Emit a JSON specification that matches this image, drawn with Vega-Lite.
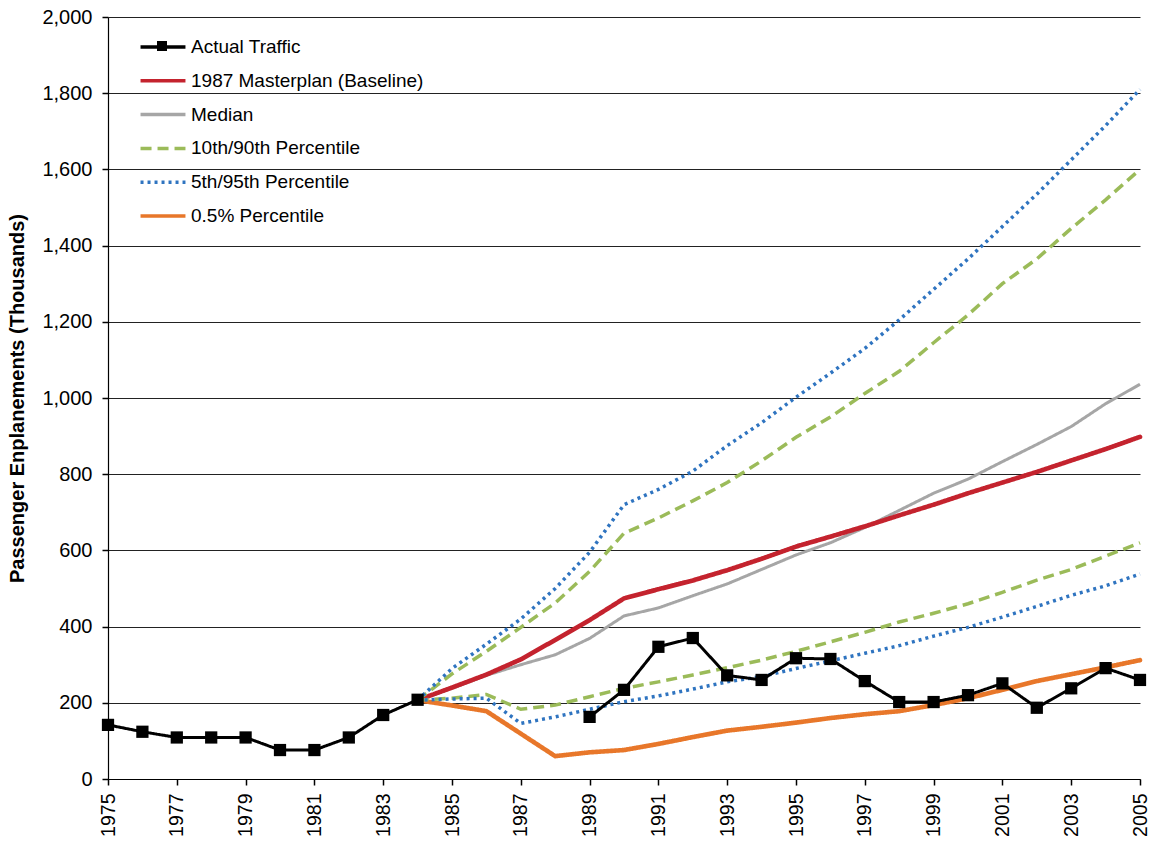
{
  "$schema": "https://vega.github.io/schema/vega-lite/v6.json",
  "width": 1032,
  "height": 762,
  "autosize": {"type": "none"},
  "padding": {"left": 108, "top": 17, "right": 11, "bottom": 63},
  "background": "white",
  "config": {
    "font": "Liberation Sans",
    "view": {"stroke": null},
    "axis": {"labelFont": "Liberation Sans", "titleFont": "Liberation Sans", "labelColor": "black", "titleColor": "black"}
  },
  "data": {
    "values": [
      {"year": 1975, "series": "Actual Traffic", "part": "pre", "value": 142},
      {"year": 1976, "series": "Actual Traffic", "part": "pre", "value": 124},
      {"year": 1977, "series": "Actual Traffic", "part": "pre", "value": 109},
      {"year": 1978, "series": "Actual Traffic", "part": "pre", "value": 109},
      {"year": 1979, "series": "Actual Traffic", "part": "pre", "value": 109},
      {"year": 1980, "series": "Actual Traffic", "part": "pre", "value": 76},
      {"year": 1981, "series": "Actual Traffic", "part": "pre", "value": 76},
      {"year": 1982, "series": "Actual Traffic", "part": "pre", "value": 109},
      {"year": 1983, "series": "Actual Traffic", "part": "pre", "value": 168},
      {"year": 1984, "series": "Actual Traffic", "part": "pre", "value": 208},
      {"year": 1989, "series": "Actual Traffic", "part": "post", "value": 163},
      {"year": 1990, "series": "Actual Traffic", "part": "post", "value": 234},
      {"year": 1991, "series": "Actual Traffic", "part": "post", "value": 347},
      {"year": 1992, "series": "Actual Traffic", "part": "post", "value": 370},
      {"year": 1993, "series": "Actual Traffic", "part": "post", "value": 272},
      {"year": 1994, "series": "Actual Traffic", "part": "post", "value": 260},
      {"year": 1995, "series": "Actual Traffic", "part": "post", "value": 317},
      {"year": 1996, "series": "Actual Traffic", "part": "post", "value": 315},
      {"year": 1997, "series": "Actual Traffic", "part": "post", "value": 257},
      {"year": 1998, "series": "Actual Traffic", "part": "post", "value": 202},
      {"year": 1999, "series": "Actual Traffic", "part": "post", "value": 202},
      {"year": 2000, "series": "Actual Traffic", "part": "post", "value": 220},
      {"year": 2001, "series": "Actual Traffic", "part": "post", "value": 251},
      {"year": 2002, "series": "Actual Traffic", "part": "post", "value": 187},
      {"year": 2003, "series": "Actual Traffic", "part": "post", "value": 238},
      {"year": 2004, "series": "Actual Traffic", "part": "post", "value": 291},
      {"year": 2005, "series": "Actual Traffic", "part": "post", "value": 260},

      {"year": 1984, "series": "1987 Masterplan (Baseline)", "part": "main", "value": 207},
      {"year": 1985, "series": "1987 Masterplan (Baseline)", "part": "main", "value": 240},
      {"year": 1986, "series": "1987 Masterplan (Baseline)", "part": "main", "value": 274},
      {"year": 1987, "series": "1987 Masterplan (Baseline)", "part": "main", "value": 314},
      {"year": 1988, "series": "1987 Masterplan (Baseline)", "part": "main", "value": 365},
      {"year": 1989, "series": "1987 Masterplan (Baseline)", "part": "main", "value": 417},
      {"year": 1990, "series": "1987 Masterplan (Baseline)", "part": "main", "value": 474},
      {"year": 1991, "series": "1987 Masterplan (Baseline)", "part": "main", "value": 498},
      {"year": 1992, "series": "1987 Masterplan (Baseline)", "part": "main", "value": 521},
      {"year": 1993, "series": "1987 Masterplan (Baseline)", "part": "main", "value": 548},
      {"year": 1994, "series": "1987 Masterplan (Baseline)", "part": "main", "value": 578},
      {"year": 1995, "series": "1987 Masterplan (Baseline)", "part": "main", "value": 610},
      {"year": 1996, "series": "1987 Masterplan (Baseline)", "part": "main", "value": 636},
      {"year": 1997, "series": "1987 Masterplan (Baseline)", "part": "main", "value": 663},
      {"year": 1998, "series": "1987 Masterplan (Baseline)", "part": "main", "value": 692},
      {"year": 1999, "series": "1987 Masterplan (Baseline)", "part": "main", "value": 720},
      {"year": 2000, "series": "1987 Masterplan (Baseline)", "part": "main", "value": 750},
      {"year": 2001, "series": "1987 Masterplan (Baseline)", "part": "main", "value": 778},
      {"year": 2002, "series": "1987 Masterplan (Baseline)", "part": "main", "value": 806},
      {"year": 2003, "series": "1987 Masterplan (Baseline)", "part": "main", "value": 836},
      {"year": 2004, "series": "1987 Masterplan (Baseline)", "part": "main", "value": 866},
      {"year": 2005, "series": "1987 Masterplan (Baseline)", "part": "main", "value": 898},

      {"year": 1984, "series": "Median", "part": "main", "value": 207},
      {"year": 1985, "series": "Median", "part": "main", "value": 238},
      {"year": 1986, "series": "Median", "part": "main", "value": 272},
      {"year": 1987, "series": "Median", "part": "main", "value": 300},
      {"year": 1988, "series": "Median", "part": "main", "value": 326},
      {"year": 1989, "series": "Median", "part": "main", "value": 369},
      {"year": 1990, "series": "Median", "part": "main", "value": 428},
      {"year": 1991, "series": "Median", "part": "main", "value": 449},
      {"year": 1992, "series": "Median", "part": "main", "value": 481},
      {"year": 1993, "series": "Median", "part": "main", "value": 512},
      {"year": 1994, "series": "Median", "part": "main", "value": 550},
      {"year": 1995, "series": "Median", "part": "main", "value": 588},
      {"year": 1996, "series": "Median", "part": "main", "value": 620},
      {"year": 1997, "series": "Median", "part": "main", "value": 660},
      {"year": 1998, "series": "Median", "part": "main", "value": 705},
      {"year": 1999, "series": "Median", "part": "main", "value": 750},
      {"year": 2000, "series": "Median", "part": "main", "value": 787},
      {"year": 2001, "series": "Median", "part": "main", "value": 833},
      {"year": 2002, "series": "Median", "part": "main", "value": 878},
      {"year": 2003, "series": "Median", "part": "main", "value": 925},
      {"year": 2004, "series": "Median", "part": "main", "value": 985},
      {"year": 2005, "series": "Median", "part": "main", "value": 1036},

      {"year": 1984, "series": "10th/90th Percentile", "part": "upper", "value": 207},
      {"year": 1985, "series": "10th/90th Percentile", "part": "upper", "value": 276},
      {"year": 1986, "series": "10th/90th Percentile", "part": "upper", "value": 335},
      {"year": 1987, "series": "10th/90th Percentile", "part": "upper", "value": 398},
      {"year": 1988, "series": "10th/90th Percentile", "part": "upper", "value": 462},
      {"year": 1989, "series": "10th/90th Percentile", "part": "upper", "value": 545},
      {"year": 1990, "series": "10th/90th Percentile", "part": "upper", "value": 645},
      {"year": 1991, "series": "10th/90th Percentile", "part": "upper", "value": 685},
      {"year": 1992, "series": "10th/90th Percentile", "part": "upper", "value": 730},
      {"year": 1993, "series": "10th/90th Percentile", "part": "upper", "value": 778},
      {"year": 1994, "series": "10th/90th Percentile", "part": "upper", "value": 835},
      {"year": 1995, "series": "10th/90th Percentile", "part": "upper", "value": 897},
      {"year": 1996, "series": "10th/90th Percentile", "part": "upper", "value": 950},
      {"year": 1997, "series": "10th/90th Percentile", "part": "upper", "value": 1012},
      {"year": 1998, "series": "10th/90th Percentile", "part": "upper", "value": 1070},
      {"year": 1999, "series": "10th/90th Percentile", "part": "upper", "value": 1145},
      {"year": 2000, "series": "10th/90th Percentile", "part": "upper", "value": 1218},
      {"year": 2001, "series": "10th/90th Percentile", "part": "upper", "value": 1300},
      {"year": 2002, "series": "10th/90th Percentile", "part": "upper", "value": 1365},
      {"year": 2003, "series": "10th/90th Percentile", "part": "upper", "value": 1445},
      {"year": 2004, "series": "10th/90th Percentile", "part": "upper", "value": 1520},
      {"year": 2005, "series": "10th/90th Percentile", "part": "upper", "value": 1600},

      {"year": 1984, "series": "10th/90th Percentile", "part": "lower", "value": 207},
      {"year": 1985, "series": "10th/90th Percentile", "part": "lower", "value": 212},
      {"year": 1986, "series": "10th/90th Percentile", "part": "lower", "value": 222},
      {"year": 1987, "series": "10th/90th Percentile", "part": "lower", "value": 183},
      {"year": 1988, "series": "10th/90th Percentile", "part": "lower", "value": 194},
      {"year": 1989, "series": "10th/90th Percentile", "part": "lower", "value": 216},
      {"year": 1990, "series": "10th/90th Percentile", "part": "lower", "value": 238},
      {"year": 1991, "series": "10th/90th Percentile", "part": "lower", "value": 255},
      {"year": 1992, "series": "10th/90th Percentile", "part": "lower", "value": 273},
      {"year": 1993, "series": "10th/90th Percentile", "part": "lower", "value": 292},
      {"year": 1994, "series": "10th/90th Percentile", "part": "lower", "value": 312},
      {"year": 1995, "series": "10th/90th Percentile", "part": "lower", "value": 335},
      {"year": 1996, "series": "10th/90th Percentile", "part": "lower", "value": 360},
      {"year": 1997, "series": "10th/90th Percentile", "part": "lower", "value": 385},
      {"year": 1998, "series": "10th/90th Percentile", "part": "lower", "value": 412},
      {"year": 1999, "series": "10th/90th Percentile", "part": "lower", "value": 435},
      {"year": 2000, "series": "10th/90th Percentile", "part": "lower", "value": 460},
      {"year": 2001, "series": "10th/90th Percentile", "part": "lower", "value": 490},
      {"year": 2002, "series": "10th/90th Percentile", "part": "lower", "value": 522},
      {"year": 2003, "series": "10th/90th Percentile", "part": "lower", "value": 550},
      {"year": 2004, "series": "10th/90th Percentile", "part": "lower", "value": 585},
      {"year": 2005, "series": "10th/90th Percentile", "part": "lower", "value": 620},

      {"year": 1984, "series": "5th/95th Percentile", "part": "upper", "value": 207},
      {"year": 1985, "series": "5th/95th Percentile", "part": "upper", "value": 290},
      {"year": 1986, "series": "5th/95th Percentile", "part": "upper", "value": 354},
      {"year": 1987, "series": "5th/95th Percentile", "part": "upper", "value": 420},
      {"year": 1988, "series": "5th/95th Percentile", "part": "upper", "value": 500},
      {"year": 1989, "series": "5th/95th Percentile", "part": "upper", "value": 595},
      {"year": 1990, "series": "5th/95th Percentile", "part": "upper", "value": 720},
      {"year": 1991, "series": "5th/95th Percentile", "part": "upper", "value": 760},
      {"year": 1992, "series": "5th/95th Percentile", "part": "upper", "value": 808},
      {"year": 1993, "series": "5th/95th Percentile", "part": "upper", "value": 875},
      {"year": 1994, "series": "5th/95th Percentile", "part": "upper", "value": 935},
      {"year": 1995, "series": "5th/95th Percentile", "part": "upper", "value": 1002},
      {"year": 1996, "series": "5th/95th Percentile", "part": "upper", "value": 1065},
      {"year": 1997, "series": "5th/95th Percentile", "part": "upper", "value": 1130},
      {"year": 1998, "series": "5th/95th Percentile", "part": "upper", "value": 1205},
      {"year": 1999, "series": "5th/95th Percentile", "part": "upper", "value": 1285},
      {"year": 2000, "series": "5th/95th Percentile", "part": "upper", "value": 1365},
      {"year": 2001, "series": "5th/95th Percentile", "part": "upper", "value": 1450},
      {"year": 2002, "series": "5th/95th Percentile", "part": "upper", "value": 1535},
      {"year": 2003, "series": "5th/95th Percentile", "part": "upper", "value": 1625},
      {"year": 2004, "series": "5th/95th Percentile", "part": "upper", "value": 1715},
      {"year": 2005, "series": "5th/95th Percentile", "part": "upper", "value": 1810},

      {"year": 1984, "series": "5th/95th Percentile", "part": "lower", "value": 207},
      {"year": 1985, "series": "5th/95th Percentile", "part": "lower", "value": 210},
      {"year": 1986, "series": "5th/95th Percentile", "part": "lower", "value": 212},
      {"year": 1987, "series": "5th/95th Percentile", "part": "lower", "value": 146},
      {"year": 1988, "series": "5th/95th Percentile", "part": "lower", "value": 163},
      {"year": 1989, "series": "5th/95th Percentile", "part": "lower", "value": 183},
      {"year": 1990, "series": "5th/95th Percentile", "part": "lower", "value": 203},
      {"year": 1991, "series": "5th/95th Percentile", "part": "lower", "value": 218},
      {"year": 1992, "series": "5th/95th Percentile", "part": "lower", "value": 236},
      {"year": 1993, "series": "5th/95th Percentile", "part": "lower", "value": 255},
      {"year": 1994, "series": "5th/95th Percentile", "part": "lower", "value": 269},
      {"year": 1995, "series": "5th/95th Percentile", "part": "lower", "value": 290},
      {"year": 1996, "series": "5th/95th Percentile", "part": "lower", "value": 310},
      {"year": 1997, "series": "5th/95th Percentile", "part": "lower", "value": 330},
      {"year": 1998, "series": "5th/95th Percentile", "part": "lower", "value": 350},
      {"year": 1999, "series": "5th/95th Percentile", "part": "lower", "value": 375},
      {"year": 2000, "series": "5th/95th Percentile", "part": "lower", "value": 398},
      {"year": 2001, "series": "5th/95th Percentile", "part": "lower", "value": 425},
      {"year": 2002, "series": "5th/95th Percentile", "part": "lower", "value": 453},
      {"year": 2003, "series": "5th/95th Percentile", "part": "lower", "value": 482},
      {"year": 2004, "series": "5th/95th Percentile", "part": "lower", "value": 507},
      {"year": 2005, "series": "5th/95th Percentile", "part": "lower", "value": 538},

      {"year": 1984, "series": "0.5% Percentile", "part": "main", "value": 207},
      {"year": 1985, "series": "0.5% Percentile", "part": "main", "value": 193},
      {"year": 1986, "series": "0.5% Percentile", "part": "main", "value": 178},
      {"year": 1987, "series": "0.5% Percentile", "part": "main", "value": 119},
      {"year": 1988, "series": "0.5% Percentile", "part": "main", "value": 60},
      {"year": 1989, "series": "0.5% Percentile", "part": "main", "value": 70},
      {"year": 1990, "series": "0.5% Percentile", "part": "main", "value": 76},
      {"year": 1991, "series": "0.5% Percentile", "part": "main", "value": 92},
      {"year": 1992, "series": "0.5% Percentile", "part": "main", "value": 110},
      {"year": 1993, "series": "0.5% Percentile", "part": "main", "value": 127},
      {"year": 1994, "series": "0.5% Percentile", "part": "main", "value": 137},
      {"year": 1995, "series": "0.5% Percentile", "part": "main", "value": 148},
      {"year": 1996, "series": "0.5% Percentile", "part": "main", "value": 160},
      {"year": 1997, "series": "0.5% Percentile", "part": "main", "value": 170},
      {"year": 1998, "series": "0.5% Percentile", "part": "main", "value": 178},
      {"year": 1999, "series": "0.5% Percentile", "part": "main", "value": 194},
      {"year": 2000, "series": "0.5% Percentile", "part": "main", "value": 212},
      {"year": 2001, "series": "0.5% Percentile", "part": "main", "value": 234},
      {"year": 2002, "series": "0.5% Percentile", "part": "main", "value": 257},
      {"year": 2003, "series": "0.5% Percentile", "part": "main", "value": 275},
      {"year": 2004, "series": "0.5% Percentile", "part": "main", "value": 293},
      {"year": 2005, "series": "0.5% Percentile", "part": "main", "value": 312}
    ]
  },
  "layer": [
    {
      "transform": [{"filter": "datum.series === 'Median'"}],
      "mark": {"type": "line", "strokeWidth": 3, "strokeCap": "butt"},
      "encoding": {
        "x": {
          "field": "year", "type": "quantitative",
          "scale": {"domain": [1975, 2005], "nice": false, "zero": false},
          "axis": {
            "values": [1975, 1977, 1979, 1981, 1983, 1985, 1987, 1989, 1991, 1993, 1995, 1997, 1999, 2001, 2003, 2005],
            "format": "d", "labelAngle": -90, "labelFontSize": 19.5, "labelPadding": 8,
            "tickColor": "black", "tickSize": 6, "tickWidth": 1.5, "domainColor": "black", "domainWidth": 1.2,
            "grid": false, "title": null, "labelFlush": false, "labelOverlap": false
          }
        },
        "y": {
          "field": "value", "type": "quantitative",
          "scale": {"domain": [0, 2000], "nice": false},
          "axis": {
            "values": [0, 200, 400, 600, 800, 1000, 1200, 1400, 1600, 1800, 2000],
            "format": ",.0f", "labelFontSize": 20, "labelPadding": 10,
            "tickColor": "black", "tickSize": 6, "tickWidth": 1.5, "domainColor": "black", "domainWidth": 1.2,
            "grid": true, "gridColor": "#222222", "gridWidth": 1,
            "title": "Passenger Enplanements (Thousands)", "titleFontSize": 20, "titleFontWeight": "bold",
            "titlePadding": 14, "labelFlush": false, "labelOverlap": false
          }
        },
        "color": {
          "field": "series", "type": "nominal",
          "scale": {
            "domain": ["Actual Traffic", "1987 Masterplan (Baseline)", "Median", "10th/90th Percentile", "5th/95th Percentile", "0.5% Percentile"],
            "range": ["#000000", "#C4232E", "#A6A6A6", "#9BBB59", "#2F74C0", "#E8772A"]
          },
          "legend": {
            "title": null, "orient": "none", "legendX": 37, "legendY": 12,
            "padding": 0, "rowPadding": 5.8,
            "symbolType": "M-1.4,0H1.4", "symbolSize": 1030, "symbolStrokeWidth": 3.5,
            "labelFontSize": 19, "labelFont": "Liberation Sans", "labelColor": "black", "labelOffset": 10, "labelLimit": 500
          }
        },
        "strokeDash": {
          "field": "series", "type": "nominal",
          "scale": {
            "domain": ["Actual Traffic", "1987 Masterplan (Baseline)", "Median", "10th/90th Percentile", "5th/95th Percentile", "0.5% Percentile"],
            "range": [[1, 0], [1, 0], [1, 0], [11, 6], [3, 4], [1, 0]]
          },
          "legend": {
            "title": null, "orient": "none", "legendX": 37, "legendY": 12,
            "padding": 0, "rowPadding": 5.8,
            "symbolType": "M-1.4,0H1.4", "symbolSize": 1030, "symbolStrokeWidth": 3.5,
            "labelFontSize": 19, "labelFont": "Liberation Sans", "labelColor": "black", "labelOffset": 10, "labelLimit": 500
          }
        },
        "detail": {"field": "part", "type": "nominal"}
      }
    },
    {
      "transform": [{"filter": "datum.series === '1987 Masterplan (Baseline)' || datum.series === '0.5% Percentile'"}],
      "mark": {"type": "line", "strokeWidth": 4.6, "strokeCap": "round"},
      "encoding": {
        "x": {"field": "year", "type": "quantitative"},
        "y": {"field": "value", "type": "quantitative"},
        "color": {"field": "series", "type": "nominal"},
        "strokeDash": {"field": "series", "type": "nominal"},
        "detail": {"field": "part", "type": "nominal"}
      }
    },
    {
      "transform": [{"filter": "datum.series === '10th/90th Percentile'"}],
      "mark": {"type": "line", "strokeWidth": 3.5, "strokeCap": "butt"},
      "encoding": {
        "x": {"field": "year", "type": "quantitative"},
        "y": {"field": "value", "type": "quantitative"},
        "color": {"field": "series", "type": "nominal"},
        "strokeDash": {"field": "series", "type": "nominal"},
        "detail": {"field": "part", "type": "nominal"}
      }
    },
    {
      "transform": [{"filter": "datum.series === '5th/95th Percentile'"}],
      "mark": {"type": "line", "strokeWidth": 3.5, "strokeCap": "butt"},
      "encoding": {
        "x": {"field": "year", "type": "quantitative"},
        "y": {"field": "value", "type": "quantitative"},
        "color": {"field": "series", "type": "nominal"},
        "strokeDash": {"field": "series", "type": "nominal"},
        "detail": {"field": "part", "type": "nominal"}
      }
    },
    {
      "transform": [{"filter": "datum.series === 'Actual Traffic'"}],
      "mark": {"type": "line", "strokeWidth": 3, "strokeCap": "butt"},
      "encoding": {
        "x": {"field": "year", "type": "quantitative"},
        "y": {"field": "value", "type": "quantitative"},
        "color": {"field": "series", "type": "nominal"},
        "strokeDash": {"field": "series", "type": "nominal"},
        "detail": {"field": "part", "type": "nominal"}
      }
    },
    {
      "transform": [{"filter": "datum.series === 'Actual Traffic'"}],
      "mark": {"type": "point", "filled": true, "color": "#000000", "size": 150, "opacity": 1},
      "encoding": {
        "x": {"field": "year", "type": "quantitative"},
        "y": {"field": "value", "type": "quantitative"},
        "shape": {
          "field": "series", "type": "nominal",
          "scale": {"domain": ["Actual Traffic"], "range": ["square"]},
          "legend": {
            "title": null, "orient": "none", "legendX": 49, "legendY": 24,
            "padding": 0, "symbolSize": 100, "symbolFillColor": "#000000", "symbolStrokeColor": "#000000",
            "symbolStrokeWidth": 0, "labelFontSize": 1, "labelOpacity": 0, "labelColor": "white"
          }
        }
      }
    }
  ]
}
